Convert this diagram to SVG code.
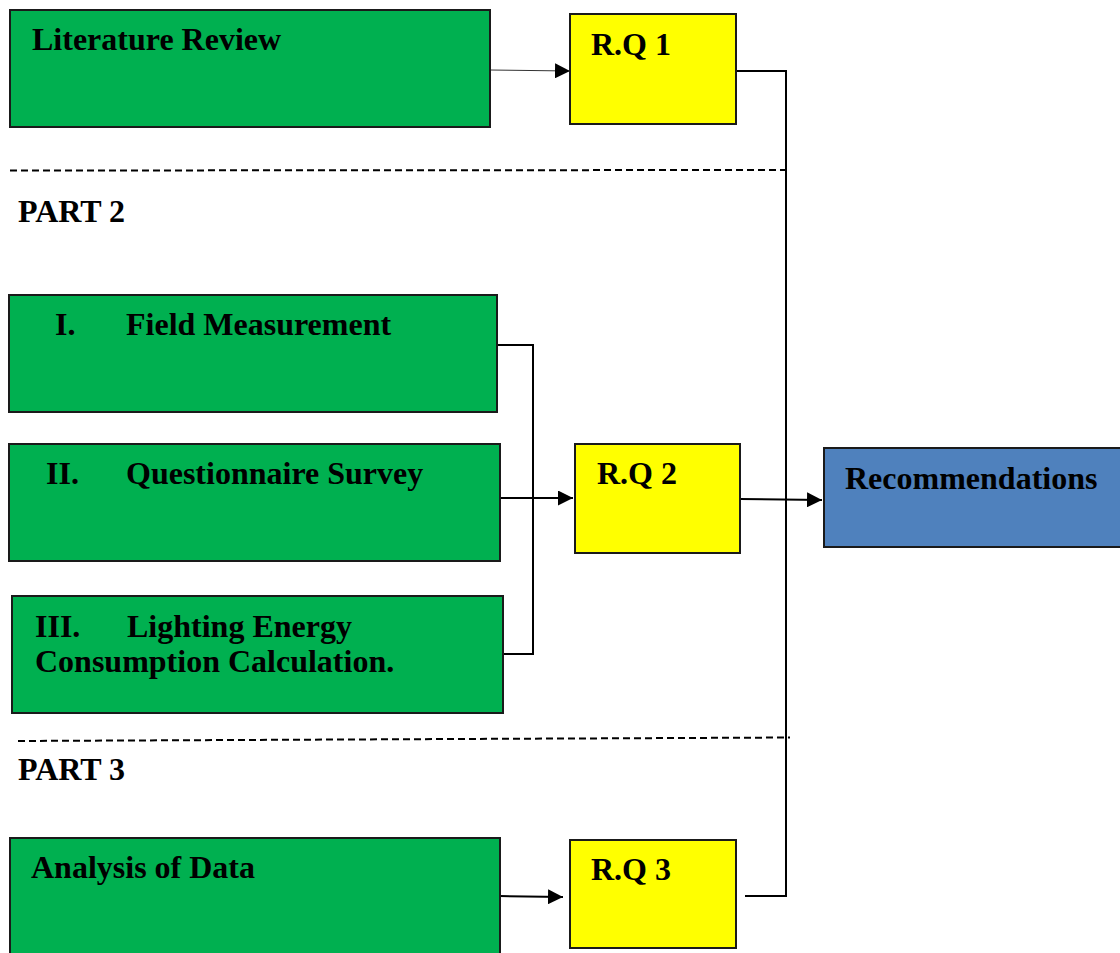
<svg xmlns="http://www.w3.org/2000/svg" width="1120" height="953" viewBox="0 0 1120 953">
<style>
.g{fill:#00B050;stroke:#1a1a1a;stroke-width:2}
.y{fill:#FFFF00;stroke:#1a1a1a;stroke-width:2}
.b{fill:#4F81BD;stroke:#1a1a1a;stroke-width:2}
text{font-family:"Liberation Serif","Times New Roman",serif;font-weight:bold;font-size:32px;fill:#000}
.c{fill:none;stroke:#000;stroke-width:2}
.d{fill:none;stroke:#000;stroke-width:2;stroke-dasharray:7 4}
</style>
<defs>
<marker id="ah" viewBox="0 0 10 10" refX="10" refY="5" markerWidth="15" markerHeight="15" markerUnits="userSpaceOnUse" orient="auto">
<path d="M0,0 L10,5 L0,10 z" fill="#000"/>
</marker>
</defs>
<g id="connectors">
<line x1="490" y1="70" x2="570" y2="71" stroke="#333" stroke-width="1" marker-end="url(#ah)"/>
<polyline class="c" points="736,71 786,71 786,896 745,896"/>
<polyline class="c" points="497,345 533,345 533,654 503,654"/>
<line class="c" x1="500" y1="498" x2="573" y2="498" marker-end="url(#ah)"/>
<line class="c" x1="740" y1="499" x2="822" y2="500" marker-end="url(#ah)"/>
<line class="c" x1="500" y1="896" x2="563" y2="897" marker-end="url(#ah)"/>
<line class="d" x1="10" y1="170.5" x2="786" y2="170"/>
<line class="d" x1="18" y1="741" x2="790" y2="737.5"/>
</g>
<g id="literature"><rect class="g" x="10" y="10" width="480" height="117"/><text x="32" y="50">Literature Review</text></g>
<g id="rq1"><rect class="y" x="570" y="14" width="166" height="110"/><text x="591" y="55">R.Q 1</text></g>
<text id="part2" x="18" y="222">PART 2</text>
<g id="field"><rect class="g" x="9" y="295" width="488" height="117"/><text x="55" y="335">I.</text><text x="126" y="335">Field Measurement</text></g>
<g id="questionnaire"><rect class="g" x="9" y="444" width="491" height="117"/><text x="46" y="484">II.</text><text x="126" y="484">Questionnaire Survey</text></g>
<g id="lighting"><rect class="g" x="12" y="596" width="491" height="117"/><text x="35" y="637">III.</text><text x="127" y="637">Lighting Energy</text><text x="35" y="672">Consumption Calculation.</text></g>
<g id="rq2"><rect class="y" x="575" y="444" width="165" height="109"/><text x="597" y="484">R.Q 2</text></g>
<g id="recommendations"><rect class="b" x="824" y="448" width="305" height="99"/><text x="845" y="489">Recommendations</text></g>
<text id="part3" x="18" y="780">PART 3</text>
<g id="analysis"><rect class="g" x="10" y="838" width="490" height="125"/><text x="31" y="878">Analysis of Data</text></g>
<g id="rq3"><rect class="y" x="570" y="840" width="166" height="108"/><text x="591" y="880">R.Q 3</text></g>
</svg>
